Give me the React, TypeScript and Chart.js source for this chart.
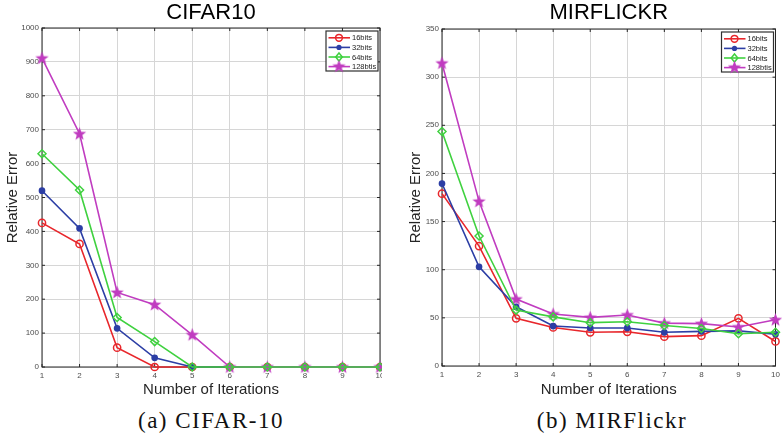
import React, { useEffect, useRef } from 'react';
import { Chart, registerables } from 'chart.js';
Chart.register(...registerables);

const iterations = [1, 2, 3, 4, 5, 6, 7, 8, 9, 10];
const seriesNames = ['16bits', '32bits', '64bits', '128btis'];

const cifar16 = [425, 363, 57, 0, 0, 0, 0, 0, 0, 0];
const cifar32 = [520, 409, 114, 27, 0, 0, 0, 0, 0, 0];
const cifar64 = [629, 522, 146, 75, 0, 0, 0, 0, 0, 0];
const cifar128 = [911, 688, 220, 184, 95, 0, 0, 0, 0, 0];

const mir16 = [179, 124.5, 49.5, 40, 35, 35.5, 30.5, 31.5, 49.5, 25.5];
const mir32 = [189.5, 103, 61.5, 41.5, 39.5, 39.5, 35, 36, 36.5, 33];
const mir64 = [243.5, 135, 58, 51, 45, 46, 42, 39, 33.5, 35];
const mir128 = [314.5, 171, 69.5, 54, 50.5, 53, 44.5, 44, 40.5, 48];

const RED = '#e8262b';
const BLUE = '#2c3ea5';
const GREEN = '#3fd13f';
const MAGENTA = '#c03cc0';
const FONT = "'Liberation Sans', Arial, sans-serif";

type PanelCfg = {
  title: string;
  series: number[][];
  yMax: number;
  yStep: number;
  yWidth: number;
  yTitlePad: number;
  padRight: number;
  padTop: number;
  xHeight: number;
};

function makeStar(color: string) {
  const c = document.createElement('canvas');
  c.width = 15;
  c.height = 15;
  const g = c.getContext('2d')!;
  g.beginPath();
  for (let i = 0; i < 10; i++) {
    const r = i % 2 === 0 ? 7 : 2.9;
    const a = -Math.PI / 2 + (i * Math.PI) / 5;
    const x = 7.5 + r * Math.cos(a);
    const y = 7.8 + r * Math.sin(a);
    if (i === 0) g.moveTo(x, y);
    else g.lineTo(x, y);
  }
  g.closePath();
  g.fillStyle = color;
  g.fill();
  return c;
}

function Panel({ cfg }: { cfg: PanelCfg }) {
  const ref = useRef<HTMLCanvasElement>(null);
  useEffect(() => {
    const star = makeStar(MAGENTA);
    const styles = [
      { color: RED, ps: 'circle' as any, r: 3.6, fill: false, order: 3 },
      { color: BLUE, ps: 'circle' as any, r: 2.6, fill: true, order: 2 },
      { color: GREEN, ps: 'rectRot' as any, r: 4, fill: false, order: 0 },
      { color: MAGENTA, ps: star as any, r: 7, fill: true, order: 1 },
    ];
    const datasets = cfg.series.map((vals, i) => ({
      label: seriesNames[i],
      data: iterations.map((x, k) => ({ x, y: vals[k] })),
      borderColor: styles[i].color,
      backgroundColor: styles[i].color,
      pointBorderColor: styles[i].color,
      pointBackgroundColor: styles[i].fill ? styles[i].color : 'rgba(0,0,0,0)',
      pointStyle: styles[i].ps,
      pointRadius: styles[i].r,
      pointBorderWidth: 1.5,
      borderWidth: 1.6,
      tension: 0,
      clip: false as any,
      order: styles[i].order,
    }));

    const decor = {
      id: 'decor',
      beforeDatasetsDraw(chart: any) {
        const { ctx, chartArea: a, scales } = chart;
        ctx.save();
        ctx.strokeStyle = '#262626';
        ctx.lineWidth = 1;
        ctx.strokeRect(a.left, a.top, a.right - a.left, a.bottom - a.top);
        ctx.beginPath();
        for (const v of iterations) {
          const px = scales.x.getPixelForValue(v);
          ctx.moveTo(px, a.bottom);
          ctx.lineTo(px, a.bottom - 3);
          ctx.moveTo(px, a.top);
          ctx.lineTo(px, a.top + 3);
        }
        for (const t of scales.y.ticks) {
          const py = scales.y.getPixelForValue(t.value);
          ctx.moveTo(a.left, py);
          ctx.lineTo(a.left + 3, py);
          ctx.moveTo(a.right, py);
          ctx.lineTo(a.right - 3, py);
        }
        ctx.stroke();
        ctx.restore();
      },
      afterDraw(chart: any) {
        const { ctx, chartArea: a } = chart;
        ctx.save();
        ctx.fillStyle = '#000';
        ctx.font = `22px ${FONT}`;
        ctx.textAlign = 'center';
        ctx.textBaseline = 'middle';
        ctx.fillText(cfg.title, (a.left + a.right) / 2, 13);
        const bw = 52;
        const bh = 40;
        const bx = a.right - 2 - bw;
        const by = a.top + 3;
        ctx.fillStyle = '#fff';
        ctx.fillRect(bx, by, bw, bh);
        ctx.strokeStyle = '#303030';
        ctx.lineWidth = 1.2;
        ctx.strokeRect(bx, by, bw, bh);
        ctx.font = `7.5px ${FONT}`;
        ctx.textAlign = 'left';
        for (let i = 0; i < 4; i++) {
          const y = by + 6.8 + i * 9.6;
          const s = styles[i];
          ctx.strokeStyle = s.color;
          ctx.lineWidth = 1.6;
          ctx.beginPath();
          ctx.moveTo(bx + 2.5, y);
          ctx.lineTo(bx + 24, y);
          ctx.stroke();
          const mx = bx + 13;
          ctx.lineWidth = 1.5;
          if (i === 0) {
            ctx.beginPath();
            ctx.arc(mx, y, 3.4, 0, Math.PI * 2);
            ctx.stroke();
          } else if (i === 1) {
            ctx.fillStyle = s.color;
            ctx.beginPath();
            ctx.arc(mx, y, 2.6, 0, Math.PI * 2);
            ctx.fill();
          } else if (i === 2) {
            ctx.beginPath();
            ctx.moveTo(mx, y - 4);
            ctx.lineTo(mx + 3.3, y);
            ctx.lineTo(mx, y + 4);
            ctx.lineTo(mx - 3.3, y);
            ctx.closePath();
            ctx.stroke();
          } else {
            ctx.drawImage(star, mx - 7.5, y - 7.8);
          }
          ctx.fillStyle = '#222';
          ctx.textBaseline = 'middle';
          ctx.fillText(seriesNames[i], bx + 26, y + 0.5);
        }
        ctx.restore();
      },
    };

    const chart = new Chart(ref.current!, {
      type: 'line',
      data: { datasets },
      options: {
        responsive: false,
        animation: false,
        devicePixelRatio: 1,
        layout: { padding: { left: 0, right: cfg.padRight, top: cfg.padTop, bottom: 0 } },
        plugins: { legend: { display: false }, tooltip: { enabled: false }, title: { display: false } },
        scales: {
          x: {
            type: 'linear',
            min: 1,
            max: 10,
            afterFit: (s: any) => {
              s.height = cfg.xHeight;
            },
            ticks: {
              stepSize: 1,
              color: '#4d4d4d',
              font: { size: 8, family: FONT },
              padding: 4,
              maxRotation: 0,
              callback: (v: any) => String(v),
            },
            grid: { color: '#d6d6d6', lineWidth: 1, drawTicks: false },
            border: { display: false },
            title: {
              display: true,
              text: 'Number of Iterations',
              color: '#262626',
              font: { size: 15, family: FONT },
              padding: { top: 0, bottom: 1 },
            },
          },
          y: {
            type: 'linear',
            min: 0,
            max: cfg.yMax,
            afterFit: (s: any) => {
              s.width = cfg.yWidth;
            },
            ticks: {
              stepSize: cfg.yStep,
              color: '#4d4d4d',
              font: { size: 8, family: FONT },
              padding: 3,
              callback: (v: any) => String(v),
            },
            grid: { color: '#d6d6d6', lineWidth: 1, drawTicks: false },
            border: { display: false },
            title: {
              display: true,
              text: 'Relative Error',
              color: '#262626',
              font: { size: 15, family: FONT },
              padding: { top: cfg.yTitlePad, bottom: 0 },
            },
          },
        },
      },
      plugins: [decor],
    });
    return () => chart.destroy();
  }, [cfg]);
  return <canvas ref={ref} width={392} height={400} style={{ width: 392, height: 400, display: 'block' }} />;
}

const leftCfg: PanelCfg = {
  title: 'CIFAR10',
  series: [cifar16, cifar32, cifar64, cifar128],
  yMax: 1000,
  yStep: 100,
  yWidth: 42,
  yTitlePad: 4,
  padRight: 12,
  padTop: 28,
  xHeight: 33,
};

const rightCfg: PanelCfg = {
  title: 'MIRFLICKR',
  series: [mir16, mir32, mir64, mir128],
  yMax: 350,
  yStep: 50,
  yWidth: 50,
  yTitlePad: 15,
  padRight: 5,
  padTop: 29,
  xHeight: 34,
};

const captionStyle: React.CSSProperties = {
  position: 'absolute',
  top: 406,
  height: 30,
  lineHeight: '30px',
  width: 300,
  textAlign: 'center',
  fontFamily: "'Liberation Serif', 'Times New Roman', serif",
  fontSize: 23,
  letterSpacing: 1.5,
  color: '#111',
};

export default function App() {
  return (
    <div style={{ position: 'absolute', left: 0, top: 0, width: 784, height: 436, background: '#fff', overflow: 'hidden' }}>
      <div style={{ position: 'absolute', left: 0, top: 0, width: 382, height: 400, overflow: 'hidden' }}>
        <Panel cfg={leftCfg} />
      </div>
      <div style={{ position: 'absolute', left: 392, top: 0, width: 392, height: 400 }}>
        <Panel cfg={rightCfg} />
      </div>
      <div style={{ ...captionStyle, left: 211 - 150 }}>(a) CIFAR-10</div>
      <div style={{ ...captionStyle, left: 612 - 150 }}>(b) MIRFlickr</div>
    </div>
  );
}
